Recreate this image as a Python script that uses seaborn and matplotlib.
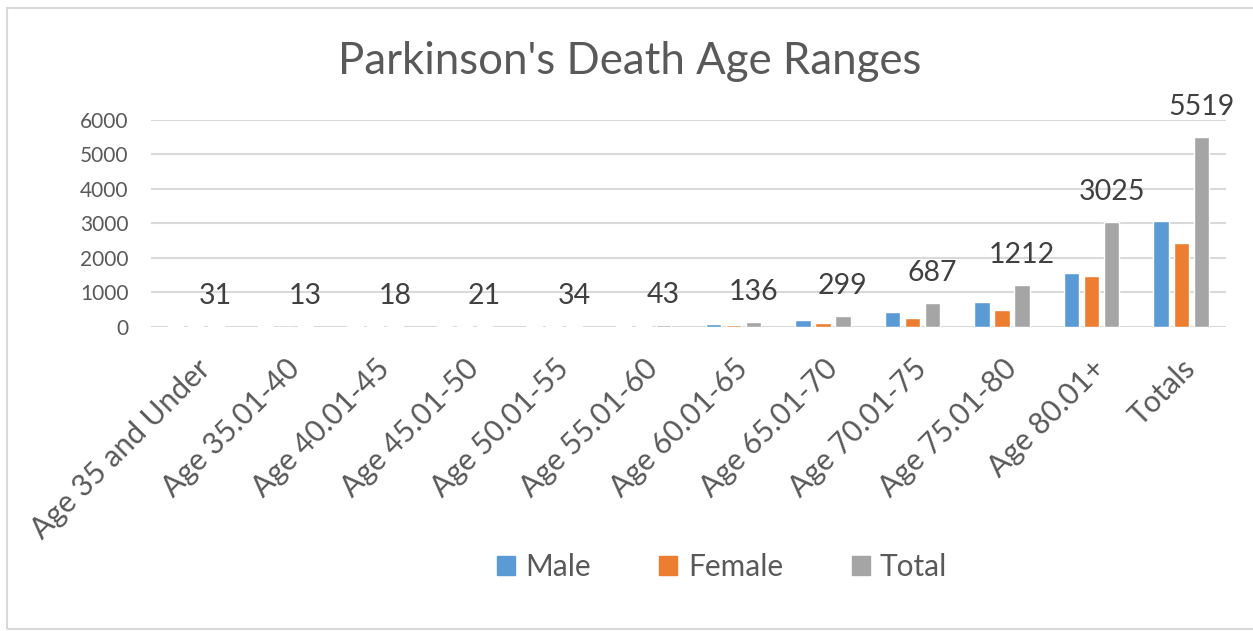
import pandas as pd
import seaborn as sns
import matplotlib.pyplot as plt
from matplotlib.patches import Rectangle

categories = ["Age 35 and Under", "Age 35.01-40", "Age 40.01-45", "Age 45.01-50",
              "Age 50.01-55", "Age 55.01-60", "Age 60.01-65", "Age 65.01-70",
              "Age 70.01-75", "Age 75.01-80", "Age 80.01+", "Totals"]
male = [18, 8, 10, 12, 20, 25, 88, 190, 430, 727, 1548, 3076]
female = [13, 5, 8, 9, 14, 18, 48, 109, 257, 485, 1477, 2443]
total = [31, 13, 18, 21, 34, 43, 136, 299, 687, 1212, 3025, 5519]
series = ["Male", "Female", "Total"]
colors = ["#5B9BD5", "#ED7D31", "#A5A5A5"]

df = pd.DataFrame({"category": categories * 3,
                   "series": [s for s in series for _ in categories],
                   "value": male + female + total})

sns.set_style("white")
plt.rcParams["font.family"] = ["Lato", "DejaVu Sans"]
txt = "#595959"

fig = plt.figure(figsize=(12.53, 6.31), dpi=100)
ax = fig.add_axes([151 / 1253, 1 - 326.7 / 631, 1075 / 1253, 206.7 / 631])

sns.barplot(data=df, x="category", y="value", hue="series", hue_order=series,
            palette=colors, width=0.67, gap=0.23, saturation=1, ax=ax, legend=False)

ax.set_ylim(0, 6000)
ax.set_xlim(-0.5, len(categories) - 0.5)
ax.set_yticks(range(0, 6001, 1000))
ax.yaxis.grid(True, color="#d9d9d9", linewidth=1.5)
ax.set_axisbelow(True)
sns.despine(ax=ax, left=True, top=True, right=True, bottom=True)
ax.axhline(0, color="#d9d9d9", linewidth=1.8, zorder=0.5)
ax.set_xlabel("")
ax.set_ylabel("")
ax.tick_params(axis="both", length=0, colors=txt)
ax.tick_params(axis="y", labelsize=15, pad=16)
ax.tick_params(axis="x", labelsize=21.5, pad=20)
for lab in ax.get_xticklabels():
    lab.set_rotation(45)
    lab.set_ha("right")
    lab.set_rotation_mode("anchor")

# totals above the grey bars
for bar, v in zip(ax.containers[2], total):
    ax.annotate(str(v), (bar.get_x() + bar.get_width() / 2, bar.get_height()),
                xytext=(0, 30), textcoords="offset pixels",
                ha="center", va="center", fontsize=20.5, color="#404040")

fig.text(630 / 1253, 1 - 61 / 631, "Parkinson's Death Age Ranges",
         ha="center", va="center", fontsize=31.5, color=txt)

handles = [Rectangle((0, 0), 1, 1, color=c) for c in colors]
fig.legend(handles, series, loc="center", bbox_to_anchor=(722 / 1253, 1 - 567 / 631),
           ncol=3, frameon=False, fontsize=21.5, handlelength=0.6, handleheight=0.6,
           handletextpad=0.35, columnspacing=2.3, labelcolor=txt)

fig.patches.append(Rectangle((6.5 / 1253, 2 / 631), 1.01, 621 / 631, transform=fig.transFigure,
                             fill=False, edgecolor="#d9d9d9", linewidth=1.5))

fig.savefig("out.png", dpi=100)
